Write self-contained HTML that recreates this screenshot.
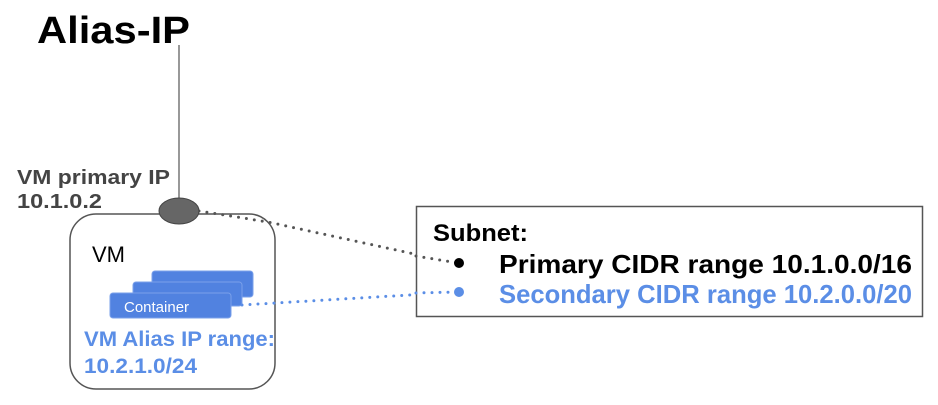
<!DOCTYPE html>
<html><head><style>body{margin:0;background:#fff}</style></head><body>
<svg width="938" height="400" xmlns="http://www.w3.org/2000/svg" font-family="Liberation Sans, sans-serif">
<rect width="938" height="400" fill="#fff"/>
<text x="37" y="43" font-size="38" font-weight="bold" fill="#000" textLength="153" lengthAdjust="spacingAndGlyphs">Alias-IP</text>
<line x1="179" y1="45" x2="179" y2="200" stroke="#555" stroke-width="1.2"/>
<text x="17" y="184" font-size="20" font-weight="bold" fill="#444" textLength="153" lengthAdjust="spacingAndGlyphs">VM primary IP</text>
<text x="17" y="208" font-size="20" font-weight="bold" fill="#444" textLength="85" lengthAdjust="spacingAndGlyphs">10.1.0.2</text>
<rect x="70" y="214" width="205" height="175" rx="26" fill="none" stroke="#555" stroke-width="1.5"/>
<path d="M199 211 L268 222 L460 264" stroke="#555" stroke-width="3" stroke-dasharray="0 8" stroke-linecap="round" fill="none"/>
<ellipse cx="179" cy="211" rx="20" ry="13" fill="#666" stroke="#444"/>
<text x="92" y="262" font-size="22" fill="#000">VM</text>
<rect x="152" y="271" width="101" height="26" rx="3" fill="#5182e0" stroke="#7aa0ea"/>
<rect x="133" y="282" width="109" height="24" rx="3" fill="#5182e0" stroke="#7aa0ea"/>
<rect x="110" y="293" width="121" height="25" rx="3" fill="#5182e0" stroke="#7aa0ea"/>
<text x="124" y="312" font-size="15" fill="#fff">Container</text>
<path d="M242 305 L460 292" stroke="#5b8ee6" stroke-width="3" stroke-dasharray="0 8" stroke-linecap="round" fill="none"/>
<text x="84" y="346" font-size="21" font-weight="bold" fill="#5b8ee6" textLength="191" lengthAdjust="spacingAndGlyphs">VM Alias IP range:</text>
<text x="84" y="373" font-size="21" font-weight="bold" fill="#5b8ee6" textLength="113" lengthAdjust="spacingAndGlyphs">10.2.1.0/24</text>
<rect x="416.5" y="206.5" width="506" height="110" fill="#fff" stroke="#555" stroke-width="1.5"/>
<path d="M416 256 L458 263" stroke="#555" stroke-width="3" stroke-dasharray="0 8" stroke-linecap="round"/>
<path d="M416 293 L458 292" stroke="#5b8ee6" stroke-width="3" stroke-dasharray="0 8" stroke-linecap="round"/>
<circle cx="459" cy="263" r="5" fill="#000"/>
<circle cx="459" cy="292" r="5" fill="#5b8ee6"/>
<text x="433" y="241" font-size="24" font-weight="bold" fill="#000" textLength="95" lengthAdjust="spacingAndGlyphs">Subnet:</text>
<text x="499" y="273" font-size="26" font-weight="bold" fill="#000" textLength="413" lengthAdjust="spacingAndGlyphs">Primary CIDR range 10.1.0.0/16</text>
<text x="499" y="303" font-size="26" font-weight="bold" fill="#5b8ee6" textLength="413" lengthAdjust="spacingAndGlyphs">Secondary CIDR range 10.2.0.0/20</text>
</svg>
</body></html>
